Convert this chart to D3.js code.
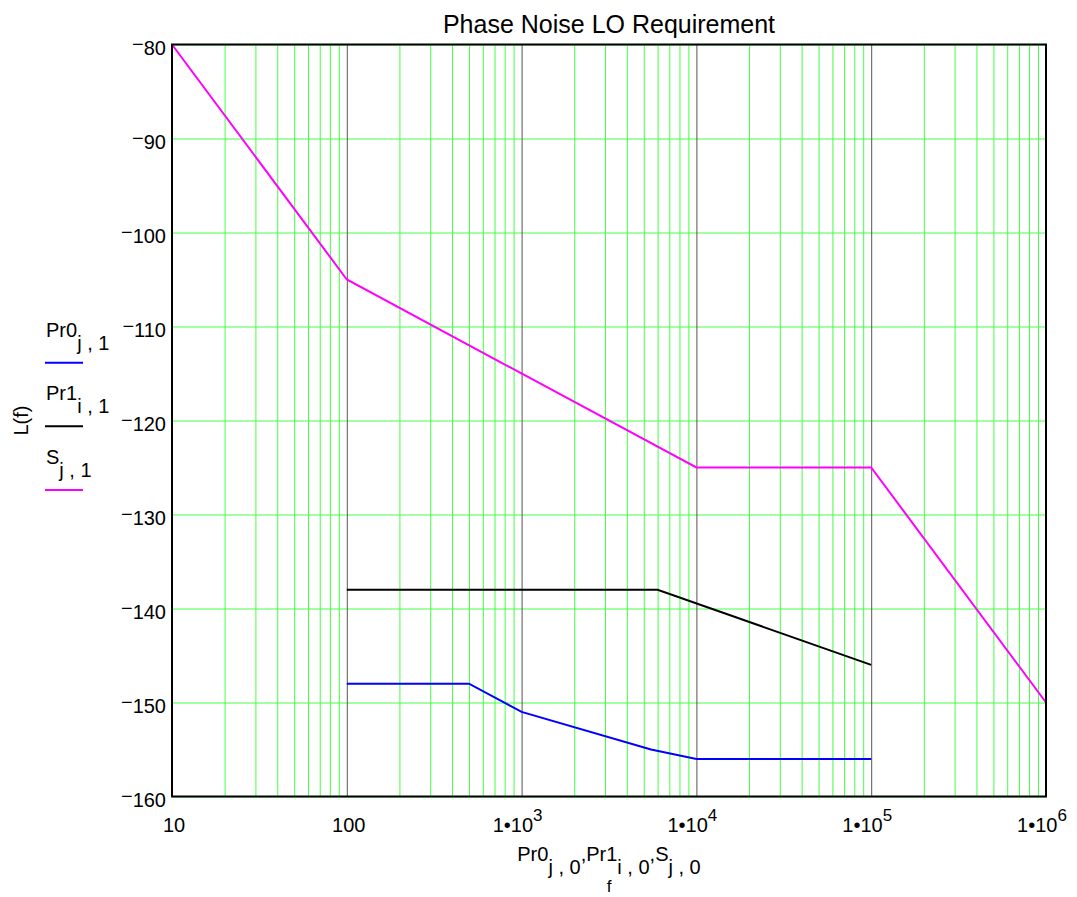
<!DOCTYPE html>
<html>
<head>
<meta charset="utf-8">
<script src="https://cdn.jsdelivr.net/npm/d3@7"></script>
<style>
  body { margin: 0; background: #fff; }
  text { font-family: 'Liberation Sans', Arial, sans-serif; fill: #000; }
</style>
</head>
<body>
<div id="graf"></div>
<script>
// datos
const fS = [10, 100, 1e4, 1e5, 1e6]
const lS = [-80, -105, -125, -125, -150]
const fPr1 = [100, 6000, 1e5]
const lPr1 = [-138, -138, -146]
const fPr0 = [100, 500, 1000, 5500, 1e4, 1e5]
const lPr0 = [-148, -148, -151, -155, -156, -156]

const xTicks = [10, 100, 1e3, 1e4, 1e5, 1e6]
const xTickLabels = [['10', null], ['100', null], ['1•10', '3'], ['1•10', '4'], ['1•10', '5'], ['1•10', '6']]
const yTicks = [-80, -90, -100, -110, -120, -130, -140, -150, -160]

const series = [
  { name: 'Pr0', sub: 'j , 1', f: fPr0, l: lPr0, color: '#0000ff' },
  { name: 'Pr1', sub: 'i , 1', f: fPr1, l: lPr1, color: '#000000' },
  { name: 'S', sub: 'j , 1', f: fS, l: lS, color: '#ff00ff' },
]

const anchoTotal = 1077
const altoTotal = 897
const margin = { top: 44.5, right: 31, bottom: 100.5, left: 172 }
const ancho = anchoTotal - margin.left - margin.right
const alto = altoTotal - margin.top - margin.bottom

const svg = d3
  .select('#graf')
  .append('svg')
  .attr('width', anchoTotal)
  .attr('height', altoTotal)

const g = svg
  .append('g')
  .attr('transform', `translate(${margin.left}, ${margin.top})`)

const x = d3.scaleLog().domain([10, 1e6]).range([0, ancho])
const y = d3.scaleLinear().domain([-160, -80]).range([alto, 0])

const esDecada = (v) => Math.abs(Math.log10(v) - Math.round(Math.log10(v))) < 1e-9

// grilla horizontal
g.append('g')
  .call(d3.axisLeft(y).tickValues(yTicks).tickSize(-ancho).tickFormat(''))
  .call((a) => a.select('.domain').remove())
  .selectAll('line')
  .attr('stroke', '#44ff44')
  .attr('stroke-width', 1)

// grilla vertical (menores verdes, decadas grises)
g.append('g')
  .attr('transform', `translate(0, ${alto})`)
  .call(d3.axisBottom(x).tickValues(x.ticks().filter((v) => !esDecada(v))).tickSize(-alto).tickFormat(''))
  .call((a) => a.select('.domain').remove())
  .selectAll('line')
  .attr('stroke', '#44ff44')
  .attr('stroke-width', 1)

g.append('g')
  .attr('transform', `translate(0, ${alto})`)
  .call(d3.axisBottom(x).tickValues(xTicks).tickSize(-alto).tickFormat(''))
  .call((a) => a.select('.domain').remove())
  .selectAll('line')
  .attr('stroke', '#555')
  .attr('stroke-width', 1)

// curvas
const generadorLinea = d3
  .line()
  .x((d) => x(d[0]))
  .y((d) => y(d[1]))

series.forEach((s) => {
  g.append('path')
    .datum(d3.zip(s.f, s.l))
    .attr('fill', 'none')
    .attr('stroke', s.color)
    .attr('stroke-width', 2)
    .attr('d', generadorLinea)
})

// borde
g.append('rect')
  .attr('width', ancho)
  .attr('height', alto)
  .attr('fill', 'none')
  .attr('stroke', '#000')
  .attr('stroke-width', 2)

// etiquetas eje y
const yLab = g
  .append('g')
  .selectAll('text')
  .data(yTicks)
  .join('text')
  .attr('x', -6)
  .attr('y', (d) => y(d) + 10.5)
  .attr('text-anchor', 'end')
  .style('font-size', '20px')
yLab.append('tspan').attr('dy', -4).text('−')
yLab.append('tspan').attr('dy', 4).text((d) => Math.abs(d))

// etiquetas eje x
const xLab = g
  .append('g')
  .selectAll('text')
  .data(xTicks)
  .join('text')
  .attr('x', (d) => x(d) + (d > 100 ? -4 : 2))
  .attr('y', alto + 35.5)
  .attr('text-anchor', 'middle')
  .style('font-size', '20px')
xLab.append('tspan').text((d, i) => xTickLabels[i][0])
xLab
  .filter((d, i) => xTickLabels[i][1])
  .append('tspan')
  .attr('dy', -11)
  .style('font-size', '17px')
  .text((d) => xTickLabels[xTicks.indexOf(d)][1])

// titulo
svg
  .append('text')
  .attr('x', margin.left + ancho / 2)
  .attr('y', 33)
  .attr('text-anchor', 'middle')
  .style('font-size', '25px')
  .text('Phase Noise LO Requirement')

// titulo eje x
const xt = svg
  .append('text')
  .attr('x', margin.left + ancho / 2)
  .attr('y', 861)
  .attr('text-anchor', 'middle')
  .style('font-size', '20px')
const partes = [['Pr0', 'j , 0'], [',Pr1', 'i , 0'], [',S', 'j , 0']]
partes.forEach((p, i) => {
  xt.append('tspan').attr('dy', i === 0 ? 0 : -13).text(p[0])
  xt.append('tspan').attr('dy', 13).text(p[1])
})
svg
  .append('text')
  .attr('x', margin.left + ancho / 2)
  .attr('y', 892)
  .attr('text-anchor', 'middle')
  .style('font-size', '17px')
  .text('f')

// titulo eje y
svg
  .append('text')
  .attr('transform', `translate(28, ${margin.top + alto / 2}) rotate(-90)`)
  .attr('text-anchor', 'middle')
  .style('font-size', '20px')
  .text('L(f)')

// leyenda
series.forEach((s, i) => {
  const ly = 362.7 + i * 63.6
  const t = svg.append('text').attr('x', 46).attr('y', ly - 26).style('font-size', '20px')
  t.append('tspan').text(s.name)
  t.append('tspan').attr('dy', 13).text(s.sub)
  svg
    .append('line')
    .attr('x1', 45)
    .attr('x2', 83)
    .attr('y1', ly)
    .attr('y2', ly)
    .attr('stroke', s.color)
    .attr('stroke-width', 2)
})
</script>
</body>
</html>
